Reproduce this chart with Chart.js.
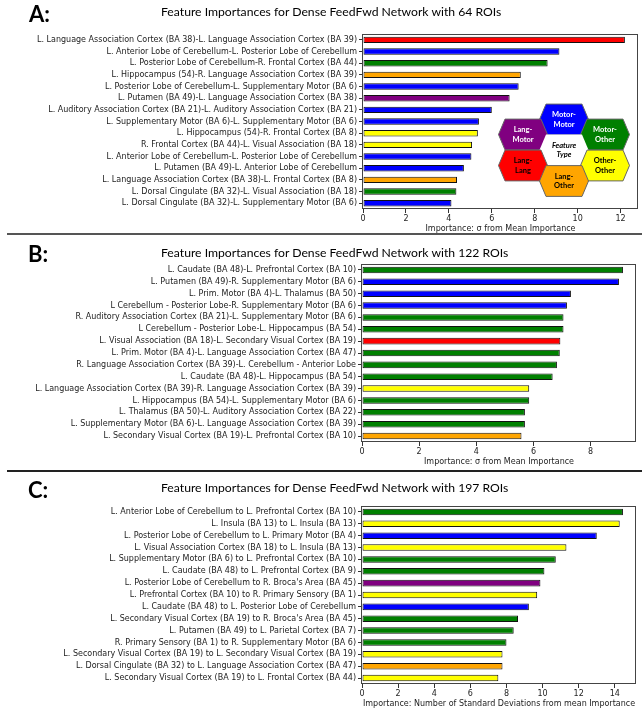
<!DOCTYPE html>
<html>
<head>
<meta charset="utf-8">
<script src="https://cdn.jsdelivr.net/npm/chart.js@4.4.0/dist/chart.umd.min.js"></script>
<style>
  body { margin: 0; background: #fff; }
  #page { position: relative; width: 642px; height: 712px; overflow: hidden; background: #fff; }
  .panel { position: absolute; left: 0; width: 642px; }
  .panel canvas { display: block; }
  .letter { position: absolute; font-family: Lato, sans-serif; font-weight: bold; font-size: 22px; line-height: 22px; color: #000; }
  .title { position: absolute; left: 161px; font-family: Lato, sans-serif; font-size: 12.2px; line-height: 14px; color: #000; white-space: nowrap; }
  .sep { position: absolute; left: 7px; width: 635px; height: 2px; }
</style>
</head>
<body>
<div id="page">
  <div class="panel" style="top:0px"><canvas id="chartA" width="642" height="234"></canvas></div>
  <div class="panel" style="top:236px"><canvas id="chartB" width="642" height="231"></canvas></div>
  <div class="panel" style="top:473px"><canvas id="chartC" width="642" height="236"></canvas></div>

  <div class="letter" style="left:29px;top:3px">A:</div>
  <div class="letter" style="left:28px;top:243px">B:</div>
  <div class="letter" style="left:28px;top:479px">C:</div>

  <div class="title" style="top:5px">Feature Importances for Dense FeedFwd Network with 64 ROIs</div>
  <div class="title" style="top:246px">Feature Importances for Dense FeedFwd Network with 122 ROIs</div>
  <div class="title" style="top:481px">Feature Importances for Dense FeedFwd Network with 197 ROIs</div>

  <div class="sep" style="top:233px;background:#555"></div>
  <div class="sep" style="top:470px;background:#222"></div>
</div>

<script>
// ---- data: panel A (64 ROIs) ----
var labelsA = [
  "L. Language Association Cortex (BA 38)-L. Language Association Cortex (BA 39)",
  "L. Anterior Lobe of Cerebellum-L. Posterior Lobe of Cerebellum",
  "L. Posterior Lobe of Cerebellum-R. Frontal Cortex (BA 44)",
  "L. Hippocampus (54)-R. Language Association Cortex (BA 39)",
  "L. Posterior Lobe of Cerebellum-L. Supplementary Motor (BA 6)",
  "L. Putamen (BA 49)-L. Language Association Cortex (BA 38)",
  "L. Auditory Association Cortex (BA 21)-L. Auditory Association Cortex (BA 21)",
  "L. Supplementary Motor (BA 6)-L. Supplementary Motor (BA 6)",
  "L. Hippocampus (54)-R. Frontal Cortex (BA 8)",
  "R. Frontal Cortex (BA 44)-L. Visual Association (BA 18)",
  "L. Anterior Lobe of Cerebellum-L. Posterior Lobe of Cerebellum",
  "L. Putamen (BA 49)-L. Anterior Lobe of Cerebellum",
  "L. Language Association Cortex (BA 38)-L. Frontal Cortex (BA 8)",
  "L. Dorsal Cingulate (BA 32)-L. Visual Association (BA 18)",
  "L. Dorsal Cingulate (BA 32)-L. Supplementary Motor (BA 6)"
];
var valuesA = [12.2, 9.15, 8.6, 7.35, 7.25, 6.83, 6.0, 5.4, 5.35, 5.08, 5.05, 4.7, 4.38, 4.35, 4.12];
var colorsA = ["red", "blue", "green", "orange", "blue", "purple", "blue", "blue", "yellow", "yellow", "blue", "blue", "orange", "green", "blue"];

// ---- data: panel B (122 ROIs) ----
var labelsB = [
  "L. Caudate (BA 48)-L. Prefrontal Cortex (BA 10)",
  "L. Putamen (BA 49)-R. Supplementary Motor (BA 6)",
  "L. Prim. Motor (BA 4)-L. Thalamus (BA 50)",
  "L Cerebellum - Posterior Lobe-R. Supplementary Motor (BA 6)",
  "R. Auditory Association Cortex (BA 21)-L. Supplementary Motor (BA 6)",
  "L Cerebellum - Posterior Lobe-L. Hippocampus (BA 54)",
  "L. Visual Association (BA 18)-L. Secondary Visual Cortex (BA 19)",
  "L. Prim. Motor (BA 4)-L. Language Association Cortex (BA 47)",
  "R. Language Association Cortex (BA 39)-L. Cerebellum - Anterior Lobe",
  "L. Caudate (BA 48)-L. Hippocampus (BA 54)",
  "L. Language Association Cortex (BA 39)-R. Language Association Cortex (BA 39)",
  "L. Hippocampus (BA 54)-L. Supplementary Motor (BA 6)",
  "L. Thalamus (BA 50)-L. Auditory Association Cortex (BA 22)",
  "L. Supplementary Motor (BA 6)-L. Language Association Cortex (BA 39)",
  "L. Secondary Visual Cortex (BA 19)-L. Prefrontal Cortex (BA 10)"
];
var valuesB = [9.13, 8.99, 7.31, 7.17, 7.05, 7.05, 6.94, 6.92, 6.82, 6.67, 5.85, 5.85, 5.7, 5.7, 5.58];
var colorsB = ["green", "blue", "blue", "blue", "green", "green", "red", "green", "green", "green", "yellow", "green", "green", "green", "orange"];

// ---- data: panel C (197 ROIs) ----
var labelsC = [
  "L. Anterior Lobe of Cerebellum to L. Prefrontal Cortex (BA 10)",
  "L. Insula (BA 13) to L. Insula (BA 13)",
  "L. Posterior Lobe of Cerebellum to L. Primary Motor (BA 4)",
  "L. Visual Association Cortex (BA 18) to L. Insula (BA 13)",
  "L. Supplementary Motor (BA 6) to L. Prefrontal Cortex (BA 10)",
  "L. Caudate (BA 48) to L. Prefrontal Cortex (BA 9)",
  "L. Posterior Lobe of Cerebellum to R. Broca's Area (BA 45)",
  "L. Prefrontal Cortex (BA 10) to R. Primary Sensory (BA 1)",
  "L. Caudate (BA 48) to L. Posterior Lobe of Cerebellum",
  "L. Secondary Visual Cortex (BA 19) to R. Broca's Area (BA 45)",
  "L. Putamen (BA 49) to L. Parietal Cortex (BA 7)",
  "R. Primary Sensory (BA 1) to R. Supplementary Motor (BA 6)",
  "L. Secondary Visual Cortex (BA 19) to L. Secondary Visual Cortex (BA 19)",
  "L. Dorsal Cingulate (BA 32) to L. Language Association Cortex (BA 47)",
  "L. Secondary Visual Cortex (BA 19) to L. Frontal Cortex (BA 44)"
];
var valuesC = [14.45, 14.27, 13.0, 11.32, 10.73, 10.1, 9.88, 9.7, 9.24, 8.64, 8.4, 8.0, 7.78, 7.78, 7.55];
var colorsC = ["green", "yellow", "blue", "yellow", "green", "green", "purple", "yellow", "blue", "green", "green", "green", "yellow", "orange", "yellow"];

var axisTitleAB = "Importance: \u03c3 from Mean Importance";
var axisTitleC = "Importance: Number of Standard Deviations from mean Importance";

// feature type legend cells (hexagons)
var hexNames = ["Motor-|Motor", "Lang-|Motor", "Motor-|Other", "Feature|Type", "Lang-|Lang", "Other-|Other", "Lang-|Other"];
var hexColors = ["blue", "purple", "green", "#ffffff", "red", "yellow", "orange"];

var tickFont = { family: "DejaVu Sans", size: 8 };

// box around the plot area, like matplotlib spines
var framePlugin = {
  id: 'frame',
  afterDatasetsDraw: function(chart) {
    var a = chart.chartArea;
    var ctx = chart.ctx;
    ctx.save();
    ctx.strokeStyle = '#444';
    ctx.lineWidth = 1;
    ctx.strokeRect(Math.round(a.left) - 0.5, Math.round(a.top) + 0.5,
      Math.round(a.right - a.left), Math.round(a.bottom - a.top) - 1);
    ctx.restore();
  }
};

// hexagon "Feature Type" key, only on panel A
var hexPlugin = {
  id: 'hexLegend',
  afterDraw: function(chart) {
    if (!chart.options.plugins.hexLegend.show) return;
    var ctx = chart.ctx;
    var centers = [[564, 119.5], [523, 134.5], [605, 134.5], [564, 150], [523, 165.5], [605, 165.5], [564, 181]];
    var rx = 24.5, ry = 15.4, tx = 18;
    ctx.save();
    for (var i = 0; i < hexNames.length; i++) {
      var cx = centers[i][0], cy = centers[i][1];
      ctx.beginPath();
      ctx.moveTo(cx - rx, cy);
      ctx.lineTo(cx - tx, cy - ry);
      ctx.lineTo(cx + tx, cy - ry);
      ctx.lineTo(cx + rx, cy);
      ctx.lineTo(cx + tx, cy + ry);
      ctx.lineTo(cx - tx, cy + ry);
      ctx.closePath();
      ctx.fillStyle = hexColors[i];
      ctx.fill();
      if (i != 3) {
        ctx.strokeStyle = '#666';
        ctx.lineWidth = 1;
        ctx.stroke();
      }
      var lines = hexNames[i].split('|');
      var dark = (hexColors[i] == 'blue' || hexColors[i] == 'purple' || hexColors[i] == 'green');
      ctx.fillStyle = dark ? '#fff' : '#000';
      ctx.font = (i == 3 ? 'italic bold ' : 'bold ') + '7.5px Lato';
      ctx.textAlign = 'center';
      ctx.textBaseline = 'middle';
      ctx.fillText(lines[0], cx, cy - 4.7);
      ctx.fillText(lines[1], cx, cy + 4.7);
    }
    ctx.restore();
  }
};

function makeChart(id, labels, values, colors, axisTitle, box, showHex) {
  var ctx = document.getElementById(id).getContext('2d');
  return new Chart(ctx, {
    type: 'bar',
    data: {
      labels: labels,
      datasets: [{
        data: values,
        backgroundColor: colors,
        borderColor: '#111',
        borderWidth: 1,
        borderSkipped: false,
        barPercentage: 0.55,
        categoryPercentage: 1
      }]
    },
    options: {
      indexAxis: 'y',
      responsive: false,
      animation: false,
      events: [],
      layout: { padding: { top: box.top, right: box.right, left: 0, bottom: 0 } },
      plugins: {
        legend: { display: false },
        tooltip: { enabled: false },
        hexLegend: { show: showHex }
      },
      scales: {
        x: {
          min: 0,
          max: Math.max.apply(null, values) * 1.05,
          ticks: { stepSize: 2, includeBounds: false, font: tickFont, color: '#222', padding: 1, maxRotation: 0 },
          grid: { drawOnChartArea: false, tickLength: 4, color: '#333' },
          border: { display: false },
          title: { display: true, text: axisTitle, font: tickFont, color: '#222', padding: 0 },
          afterFit: function(s) { s.height = 25; }
        },
        y: {
          ticks: { autoSkip: false, font: tickFont, color: '#222', padding: 2 },
          grid: { drawOnChartArea: false, tickLength: 4, offset: false, color: '#333' },
          border: { display: false },
          afterFit: function(s) { s.width = box.left; }
        }
      }
    },
    plugins: [framePlugin, hexPlugin]
  });
}

makeChart('chartA', labelsA, valuesA, colorsA, axisTitleAB, { top: 34, right: 4, left: 363 }, true);
makeChart('chartB', labelsB, valuesB, colorsB, axisTitleAB, { top: 28, right: 6, left: 362 }, false);
makeChart('chartC', labelsC, valuesC, colorsC, axisTitleC, { top: 33, right: 6, left: 362 }, false);
</script>
</body>
</html>
